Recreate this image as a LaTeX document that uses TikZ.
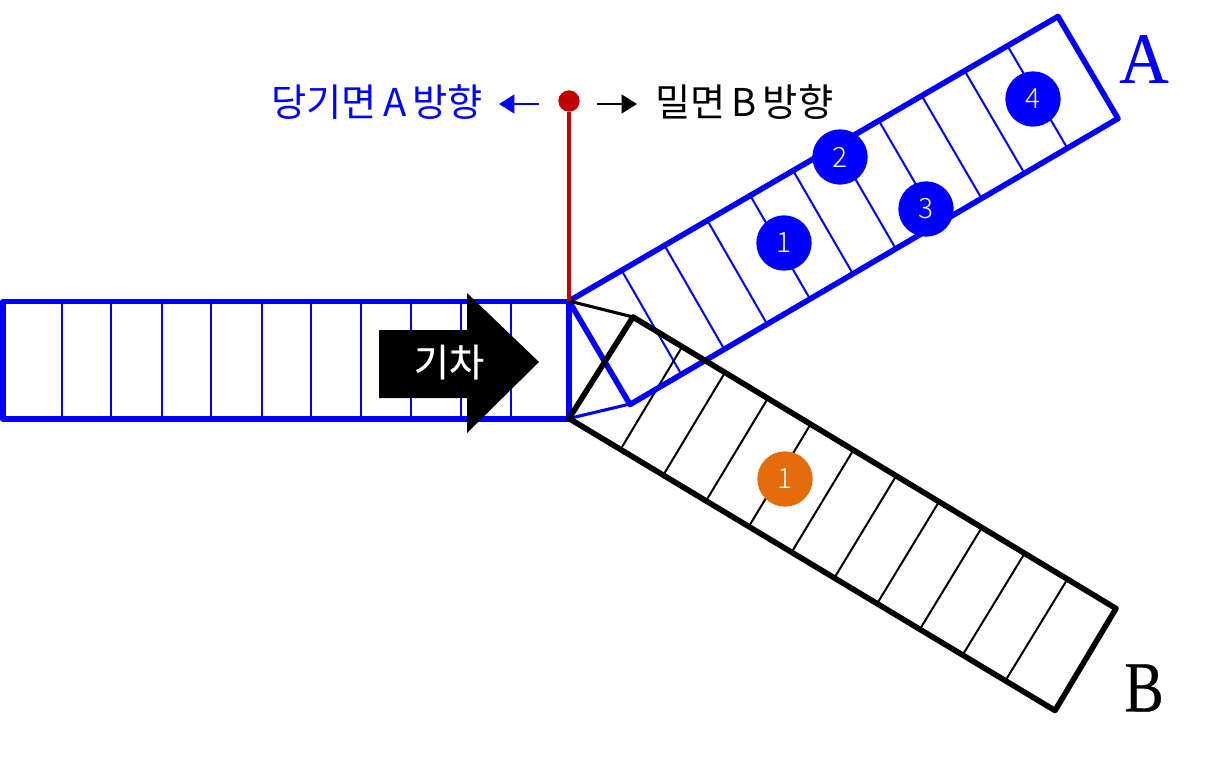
\documentclass[tikz,border=0pt]{standalone}
\usepackage{fontspec}
\usetikzlibrary{arrows.meta}
\newfontfamily\krfont{Noto Sans CJK KR}
\newfontfamily\krbold[FakeBold=0.6]{Noto Sans CJK KR}
\newfontfamily\krlight{Noto Sans CJK KR Light}
\newfontfamily\serifont[FakeBold=0.4]{Liberation Serif}
\definecolor{tblue}{RGB}{0,0,255}
\definecolor{tred}{RGB}{192,0,0}
\definecolor{torange}{RGB}{228,108,10}
\newcommand{\wsp}{\hspace{4.5pt}}
\tikzset{
  rail/.style={line width=4.2pt,line join=round,line cap=round},
  thinrail/.style={line width=2.3pt,line join=round},
  tie/.style={line width=1.5pt},
  lefttie/.style={line width=2.1pt,tblue},
  badge/.style={circle,minimum size=41.5pt,inner sep=0pt,text=white,font=\krlight\fontsize{21}{22}\selectfont},
  lab/.style={inner sep=0pt,font=\krfont\fontsize{28.7}{30}\selectfont},
  trainlab/.style={inner sep=0pt,font=\krbold\fontsize{28.6}{30}\selectfont},
  big/.style={inner sep=0pt,font=\serifont\fontsize{54}{56}\selectfont},
  dirarrow/.style={line width=1.6pt,-{Triangle[length=11.5pt,width=14pt]}},
}
\begin{document}
\begin{tikzpicture}[x=0.75pt,y=-0.75pt]
\useasboundingbox (0,0) rectangle (1209,768);
% ties left
\foreach \x in {62,111,162,211,262,311,361,411,461,511}
  \draw[lefttie] (\x,301) -- (\x,418);
% blue track ties
\foreach \i in {0,...,9}
  \draw[tie,tblue] ({622+42.9*\i},{271-24.9*\i}) -- ({680+42.9*\i},{372-25.1*\i});
% black track ties
\foreach \i in {0,...,9}
  \draw[tie,black] ({682+42.7*\i},{347+26*\i}) -- ({622+42.7*\i},{447+25.8*\i});
% blue rails
\draw[rail,tblue] (3,301.5) -- (569,301.5) -- (569,419) -- (3,419) -- cycle;
\draw[rail,tblue] (569,301) -- (1058,16.5) -- (1118,118.5) -- (630,404.5) -- (569,301);
\draw[thinrail,tblue] (630,404) -- (569,418.5);
% black rails
\draw[thinrail,black] (569,301) -- (633,317);
\draw[rail,black] (569,418.5) -- (633,317) -- (1116,608.5) -- (1055,710.5) -- cycle;
% train
\fill[black] (379,330) -- (467,330) -- (467,293) -- (539,362) -- (467,433) -- (467,398) -- (379,398) -- cycle;
\node[trainlab,text=white] (train) at (449,362) {기차};
% lever
\node[circle,fill=tred,minimum size=16pt,inner sep=0pt] (lever) at (569,101) {};
\coordinate (base) at (569,301);
\draw[tred,line width=2.8pt] (lever) -- (base);
\coordinate (la) at (539,104); \coordinate (lb) at (499,104);
\coordinate (ra) at (597,104); \coordinate (rb) at (637,104);
\draw[dirarrow,tblue] (la) -- (lb);
\draw[dirarrow,black] (ra) -- (rb);
\node[lab,text=tblue,anchor=east] (pull) at (483,102) {당기면\wsp A\wsp 방향};
\node[lab,text=black,anchor=west] (push) at (655,102) {밀면\wsp B\wsp 방향};
% badges
\node[badge,fill=tblue] (a1) at (784,243) {1};
\node[badge,fill=tblue] (a2) at (840,157) {2};
\node[badge,fill=tblue] (a3) at (926,209) {3};
\node[badge,fill=tblue] (a4) at (1033,99) {4};
\node[badge,fill=torange] (b1) at (785,479) {1};
% labels
\node[big,text=tblue] (A) at (1144,59) {\scalebox{.95}[1]{A}};
\node[big,text=black] (B) at (1144,688) {\scalebox{.82}[1]{B}};
\end{tikzpicture}
\end{document}
